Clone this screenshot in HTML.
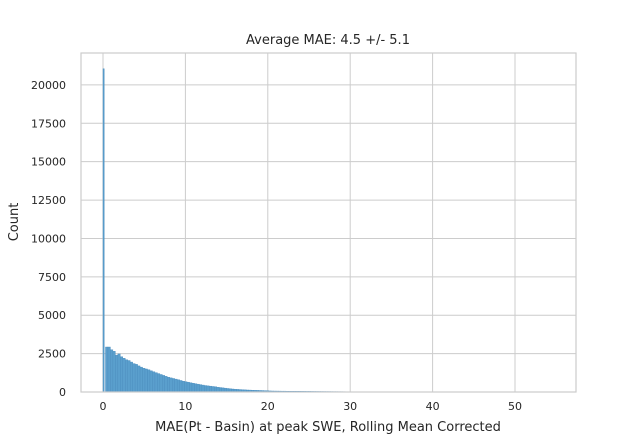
<!DOCTYPE html>
<html><head><meta charset="utf-8"><style>
body{margin:0;background:#fff;font-family:"Liberation Sans","DejaVu Sans",sans-serif}
svg text{font-family:"DejaVu Sans","Liberation Sans",sans-serif;fill:#262626}
</style></head><body>
<svg id="chart" width="640" height="440">
<text x="328" y="44" text-anchor="middle" font-size="13">Average MAE: 4.5 +/- 5.1</text>
<g id="grid"></g><g id="bars"></g><g id="ticks"></g>
<rect x="81" y="53" width="495" height="339" fill="none" stroke="#cccccc" stroke-width="1.2"/>
<text x="328" y="435" text-anchor="middle" font-size="13" dy="-4">MAE(Pt - Basin) at peak SWE, Rolling Mean Corrected</text>
<text transform="translate(18,222) rotate(-90)" text-anchor="middle" font-size="13">Count</text>
</svg>
<script>
const binWidth = 0.3;
const counts = [21050,
2930,2930,2750,2650,2400,2480,2300,2200,2100,2050,
1950,1850,1800,1700,1620,1550,1500,1450,1380,1320,
1260,1200,1140,1080,1020,960,920,880,840,800,
750,700,670,640,600,570,540,510,480,450,
420,400,380,360,340,310,290,270,250,230,
210,195,180,170,160,150,140,130,125,115,
110,105,100,95,90,85,
70,65,62,60,58,55,55,52,50,50,48,46,45,44,42,40,40,38,36,35,
34,33,32,30,30,28,27,26,25,24,22,20,0,20,18,0,16,0,0,15,
0,14,0,0,12,0,10,0,0,8,0,0,0,0,0,0,0,0,0,0,
0,0,0,0,0,0,0,0,0,0,0,6,0,0,8,0,0,6,0,0,
0,0,6];
const xTicks = [0,10,20,30,40,50];
const yTicks = [0,2500,5000,7500,10000,12500,15000,17500,20000];
const X = v => 103 + v*8.24;
const Y = v => 392 - v*0.015355;
const ns="http://www.w3.org/2000/svg";
const grid=document.getElementById('grid'), bars=document.getElementById('bars'), ticks=document.getElementById('ticks');
function mk(tag,attrs,parent){const e=document.createElementNS(ns,tag);for(const k in attrs)e.setAttribute(k,attrs[k]);parent.appendChild(e);return e;}
xTicks.forEach(t=>{
  const l=mk('line',{x1:X(t),x2:X(t),y1:53,y2:392,stroke:'#cccccc','stroke-width':1},grid);
  
  
  const tx=mk('text',{x:X(t),y:410,'text-anchor':'middle','font-size':11},ticks);
  tx.textContent=t;
  
  
});
yTicks.forEach(t=>{
  const l=mk('line',{x1:81,x2:576,y1:Y(t),y2:Y(t),stroke:'#cccccc','stroke-width':1},grid);
  
  
  const tx=mk('text',{x:66,y:Y(t)+4,'text-anchor':'end','font-size':11},ticks);
  tx.textContent=t;
  
  
});
counts.forEach((c,i)=>{
  if(c<=0)return;
  const x0=X(i*binWidth), x1=X((i+1)*binWidth);
  const w = i===0 ? (x1-x0)*0.5 : x1-x0;
  const r=mk('rect',{x:x0,y:Y(c),width:w,height:392-Y(c),fill:'#5a9fcd',stroke:'#4a8cbd','stroke-width':0.4},bars);
  
  
});
</script>
</body></html>
